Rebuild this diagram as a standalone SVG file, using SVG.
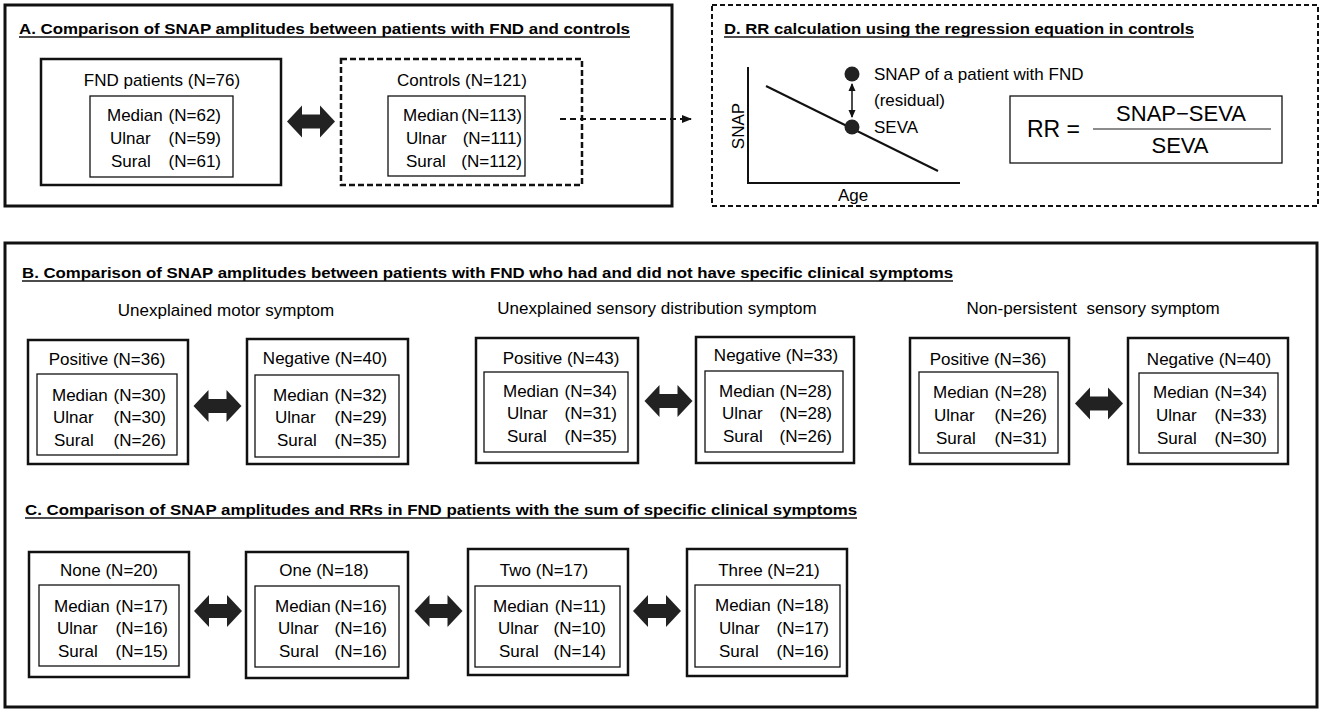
<svg xmlns="http://www.w3.org/2000/svg" width="1325" height="715" viewBox="0 0 1325 715">
<style>
text{font-family:"Liberation Sans",Arial,sans-serif;fill:#000}
.b{font-size:17px}
.m{text-anchor:middle}
.e{text-anchor:end}
.h{font-size:15.5px;font-weight:bold}
.panel{fill:#fff;stroke:#111;stroke-width:3}
.pd{fill:none;stroke:#111;stroke-width:2;stroke-dasharray:5 3}
.o{fill:#fff;stroke:#111;stroke-width:2.5}
.od{fill:#fff;stroke:#111;stroke-width:2.5;stroke-dasharray:6 3}
.i{fill:#fff;stroke:#111;stroke-width:1.3}
.ul{stroke:#111;stroke-width:1.3}
.ln{stroke:#111;stroke-width:2;fill:none}
</style>
<defs>
<path id="dbl" d="M-24,0 L-9,-16 L-9,-7 L9,-7 L9,-16 L24,0 L9,16 L9,7 L-9,7 L-9,16 Z" fill="#222"/>
<marker id="ah" markerWidth="10" markerHeight="8" refX="9" refY="4" orient="auto" markerUnits="userSpaceOnUse">
<path d="M0,0 L10,4 L0,8 Z" fill="#111"/>
</marker>
<marker id="sh" markerWidth="8" markerHeight="8" refX="7" refY="4" orient="auto-start-reverse" markerUnits="userSpaceOnUse">
<path d="M0,0.5 L8,4 L0,7.5 Z" fill="#111"/>
</marker>
</defs>
<rect width="1325" height="715" fill="#fff"/>

<!-- Panel A -->
<g id="panelA">
<rect class="panel" x="5" y="5" width="667" height="201"/>
<text class="h" x="19" y="34" textLength="611" lengthAdjust="spacingAndGlyphs">A. Comparison of SNAP amplitudes between patients with FND and controls</text>
<line class="ul" x1="19" y1="37" x2="630" y2="37"/>
</g>
<g id="fnd">
<rect class="o" x="41" y="59" width="240" height="126"/>
<text class="b m" x="162" y="86">FND patients (N=76)</text>
<rect class="i" x="90" y="96" width="143" height="81"/>
<text class="b" x="107" y="121">Median</text><text class="b e" x="221" y="121">(N=62)</text>
<text class="b" x="110" y="144">Ulnar</text><text class="b e" x="221" y="144">(N=59)</text>
<text class="b" x="111" y="167">Sural</text><text class="b e" x="221" y="167">(N=61)</text>
</g>
<g id="controls">
<rect class="od" x="341" y="59" width="241" height="126"/>
<text class="b m" x="462" y="86">Controls (N=121)</text>
<rect class="i" x="388" y="96" width="137" height="80"/>
<text class="b" x="403" y="121">Median</text><text class="b e" x="522" y="121">(N=113)</text>
<text class="b" x="406" y="144">Ulnar</text><text class="b e" x="522" y="144">(N=111)</text>
<text class="b" x="406" y="167">Sural</text><text class="b e" x="522" y="167">(N=112)</text>
</g>

<!-- Panel D -->
<g id="panelD">
<rect class="pd" x="712" y="5" width="606" height="201"/>
<text class="h" x="724" y="34" textLength="470" lengthAdjust="spacingAndGlyphs">D. RR calculation using the regression equation in controls</text>
<line class="ul" x1="724" y1="37" x2="1194" y2="37"/>
</g>
<g id="graph">
<polyline class="ln" points="748,67 748,183 960,183"/>
<text class="b m" transform="translate(744,126) rotate(-90)">SNAP</text>
<text class="b m" x="853" y="201">Age</text>
<line class="ln" x1="766" y1="86" x2="938" y2="171"/>
<circle cx="852" cy="74" r="7.5" fill="#222"/>
<circle cx="852" cy="127" r="7.5" fill="#222"/>
<line x1="852" y1="84" x2="852" y2="117" stroke="#111" stroke-width="1.5" marker-start="url(#sh)" marker-end="url(#sh)"/>
<text class="b" x="874" y="80">SNAP of a patient with FND</text>
<text class="b" x="874" y="106">(residual)</text>
<text class="b" x="874" y="133">SEVA</text>
</g>
<g id="formula">
<rect class="i" x="1010" y="96" width="272" height="67"/>
<text x="1027" y="137" font-size="23">RR =</text>
<line x1="1093" y1="129" x2="1271" y2="129" stroke="#666" stroke-width="1.5"/>
<text class="m" x="1181" y="121" font-size="22">SNAP−SEVA</text>
<text class="m" x="1180" y="153" font-size="22">SEVA</text>
</g>

<!-- Panel B/C -->
<g id="panelBC">
<rect class="panel" x="5" y="243" width="1312" height="464"/>
<text class="h" x="22" y="278" textLength="931" lengthAdjust="spacingAndGlyphs">B. Comparison of SNAP amplitudes between patients with FND who had and did not have specific clinical symptoms</text>
<line class="ul" x1="22" y1="281" x2="953" y2="281"/>
<text class="b m" x="226" y="316">Unexplained motor symptom</text>
<text class="b m" x="657" y="314">Unexplained sensory distribution symptom</text>
<text class="b m" x="1093" y="314" xml:space="preserve" style="white-space:pre">Non-persistent  sensory symptom</text>
<text class="h" x="25" y="515" textLength="832" lengthAdjust="spacingAndGlyphs">C. Comparison of SNAP amplitudes and RRs in FND patients with the sum of specific clinical symptoms</text>
<line class="ul" x1="25" y1="518" x2="857" y2="518"/>
</g>

<g id="motorPos">
<rect class="o" x="28" y="340" width="160" height="124"/>
<text class="b m" x="107" y="365">Positive (N=36)</text>
<rect class="i" x="37" y="374" width="140" height="81"/>
<text class="b" x="52" y="401">Median</text><text class="b e" x="166" y="401">(N=30)</text>
<text class="b" x="53" y="423">Ulnar</text><text class="b e" x="166" y="423">(N=30)</text>
<text class="b" x="54" y="446">Sural</text><text class="b e" x="166" y="446">(N=26)</text>
</g>
<g id="motorNeg">
<rect class="o" x="247" y="339" width="161" height="125"/>
<text class="b m" x="325" y="364">Negative (N=40)</text>
<rect class="i" x="255" y="375" width="144" height="82"/>
<text class="b" x="273" y="401">Median</text><text class="b e" x="387" y="401">(N=32)</text>
<text class="b" x="275" y="423">Ulnar</text><text class="b e" x="387" y="423">(N=29)</text>
<text class="b" x="277" y="446">Sural</text><text class="b e" x="387" y="446">(N=35)</text>
</g>
<g id="sensPos">
<rect class="o" x="476" y="338" width="162" height="125"/>
<text class="b m" x="561" y="364">Positive (N=43)</text>
<rect class="i" x="484" y="372" width="144" height="80"/>
<text class="b" x="503" y="397">Median</text><text class="b e" x="617" y="397">(N=34)</text>
<text class="b" x="507" y="419">Ulnar</text><text class="b e" x="617" y="419">(N=31)</text>
<text class="b" x="507" y="442">Sural</text><text class="b e" x="617" y="442">(N=35)</text>
</g>
<g id="sensNeg">
<rect class="o" x="696" y="337" width="158" height="126"/>
<text class="b m" x="776" y="361">Negative (N=33)</text>
<rect class="i" x="705" y="371" width="138" height="81"/>
<text class="b" x="719" y="397">Median</text><text class="b e" x="832" y="397">(N=28)</text>
<text class="b" x="722" y="419">Ulnar</text><text class="b e" x="832" y="419">(N=28)</text>
<text class="b" x="723" y="442">Sural</text><text class="b e" x="832" y="442">(N=26)</text>
</g>
<g id="npPos">
<rect class="o" x="910" y="338" width="159" height="126"/>
<text class="b m" x="988" y="365">Positive (N=36)</text>
<rect class="i" x="919" y="372" width="139" height="81"/>
<text class="b" x="933" y="398">Median</text><text class="b e" x="1047" y="398">(N=28)</text>
<text class="b" x="934" y="421">Ulnar</text><text class="b e" x="1047" y="421">(N=26)</text>
<text class="b" x="936" y="444">Sural</text><text class="b e" x="1047" y="444">(N=31)</text>
</g>
<g id="npNeg">
<rect class="o" x="1128" y="338" width="160" height="126"/>
<text class="b m" x="1209" y="365">Negative (N=40)</text>
<rect class="i" x="1139" y="373" width="139" height="80"/>
<text class="b" x="1153" y="398">Median</text><text class="b e" x="1267" y="398">(N=34)</text>
<text class="b" x="1156" y="421">Ulnar</text><text class="b e" x="1267" y="421">(N=33)</text>
<text class="b" x="1157" y="444">Sural</text><text class="b e" x="1267" y="444">(N=30)</text>
</g>

<g id="none">
<rect class="o" x="29" y="552" width="160" height="125"/>
<text class="b m" x="109" y="576">None (N=20)</text>
<rect class="i" x="39" y="585" width="140" height="81"/>
<text class="b" x="54" y="612">Median</text><text class="b e" x="168" y="612">(N=17)</text>
<text class="b" x="57" y="634">Ulnar</text><text class="b e" x="168" y="634">(N=16)</text>
<text class="b" x="58" y="657">Sural</text><text class="b e" x="168" y="657">(N=15)</text>
</g>
<g id="one">
<rect class="o" x="246" y="552" width="162" height="126"/>
<text class="b m" x="324" y="576">One (N=18)</text>
<rect class="i" x="255" y="586" width="144" height="81"/>
<text class="b" x="275" y="612">Median</text><text class="b e" x="387" y="612">(N=16)</text>
<text class="b" x="278" y="634">Ulnar</text><text class="b e" x="387" y="634">(N=16)</text>
<text class="b" x="279" y="657">Sural</text><text class="b e" x="387" y="657">(N=16)</text>
</g>
<g id="two">
<rect class="o" x="468" y="549" width="160" height="126"/>
<text class="b m" x="544" y="576">Two (N=17)</text>
<rect class="i" x="475" y="586" width="145" height="81"/>
<text class="b" x="493" y="612">Median</text><text class="b e" x="606" y="612">(N=11)</text>
<text class="b" x="498" y="634">Ulnar</text><text class="b e" x="606" y="634">(N=10)</text>
<text class="b" x="499" y="657">Sural</text><text class="b e" x="606" y="657">(N=14)</text>
</g>
<g id="three">
<rect class="o" x="687" y="549" width="160" height="127"/>
<text class="b m" x="769" y="576">Three (N=21)</text>
<rect class="i" x="695" y="585" width="145" height="82"/>
<text class="b" x="715" y="611">Median</text><text class="b e" x="829" y="611">(N=18)</text>
<text class="b" x="719" y="634">Ulnar</text><text class="b e" x="829" y="634">(N=17)</text>
<text class="b" x="719" y="657">Sural</text><text class="b e" x="829" y="657">(N=16)</text>
</g>

<g id="connectors">
<use href="#dbl" transform="translate(311,121.5)"/>
<line x1="560" y1="119" x2="691" y2="119" stroke="#111" stroke-width="2" stroke-dasharray="6 4" marker-end="url(#ah)"/>
<use href="#dbl" transform="translate(217.5,406)"/>
<use href="#dbl" transform="translate(668.5,401)"/>
<use href="#dbl" transform="translate(1099,403.5)"/>
<use href="#dbl" transform="translate(218,611)"/>
<use href="#dbl" transform="translate(438.5,611)"/>
<use href="#dbl" transform="translate(657,611)"/>
</g>
</svg>
